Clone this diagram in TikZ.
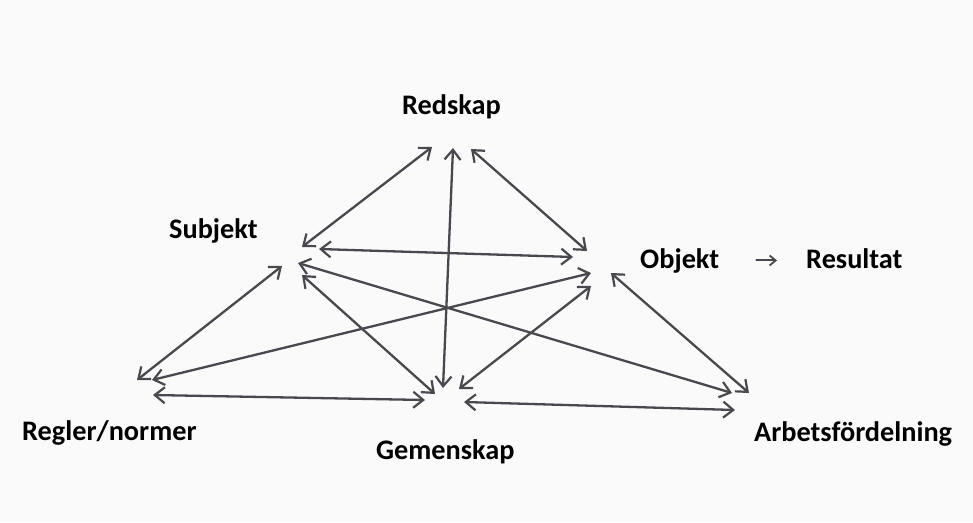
\documentclass[tikz,border=0pt]{standalone}
\usepackage{fontspec}
\setmainfont{Carlito}
\usetikzlibrary{arrows.meta}
\definecolor{ink}{RGB}{72,72,78}
\definecolor{paper}{RGB}{250,250,250}
\begin{document}
\begin{tikzpicture}[x=1pt,y=-1pt,
  label/.style={font=\fontsize{28.3}{33}\selectfont\bfseries, inner sep=0pt, anchor=base west, text=black},
  link/.style={draw=ink, line width=2.3pt, line cap=round,
    {Straight Barb[length=10pt,width=16pt,line width=2.2pt]}-{Straight Barb[length=10pt,width=16pt,line width=2.2pt]}},
  smallarrow/.style={draw=ink, line width=2pt, line cap=round,
    -{Straight Barb[length=6pt,width=10pt,line width=1.8pt]}}]
\fill[paper] (0,0) rectangle (973,522);
\useasboundingbox (0,0) rectangle (973,522);
% labels
\node[label] (red) at (402,114) {Redskap};
\node[label] (sub) at (169,238) {Subjekt};
\node[label] (obj) at (640,268) {Objekt};
\node[label] (res) at (806,268) {Resultat};
\node[label] (reg) at (22,440) {Regler/normer};
\node[label] (gem) at (376,459) {Gemenskap};
\node[label] (arb) at (754,441) {Arbetsfördelning};
% end points
\coordinate (r1) at (432,147); \coordinate (s1) at (302,247);
\coordinate (r2) at (453,148); \coordinate (g2) at (443,388);
\coordinate (r3) at (471,149); \coordinate (o3) at (587,251);
\coordinate (s4) at (319,249); \coordinate (o4) at (573,257);
\coordinate (s5) at (282,266); \coordinate (n5) at (137,380);
\coordinate (s6) at (302,275); \coordinate (g6) at (435,394);
\coordinate (s7) at (298,263); \coordinate (a7) at (732,393);
\coordinate (o8) at (591,273); \coordinate (n8) at (152,380);
\coordinate (o9) at (591,286); \coordinate (g9) at (459,389);
\coordinate (o10) at (611,273); \coordinate (a10) at (749,393);
\coordinate (n11) at (153,395); \coordinate (g11) at (425,400);
\coordinate (g12) at (464,402); \coordinate (a12) at (735,410);
% connectors
\draw[link] (r1) -- (s1);
\draw[link] (r2) -- (g2);
\draw[link] (r3) -- (o3);
\draw[link] (s4) -- (o4);
\draw[link] (s5) -- (n5);
\draw[link] (s6) -- (g6);
\draw[link] (s7) -- (a7);
\draw[link] (o8) -- (n8);
\draw[link] (o9) -- (g9);
\draw[link] (o10) -- (a10);
\draw[link] (n11) -- (g11);
\draw[link] (g12) -- (a12);
\draw[smallarrow, shorten <=37pt, shorten >=29pt] (obj.east) -- (obj.east -| res.west);
\end{tikzpicture}
\end{document}
